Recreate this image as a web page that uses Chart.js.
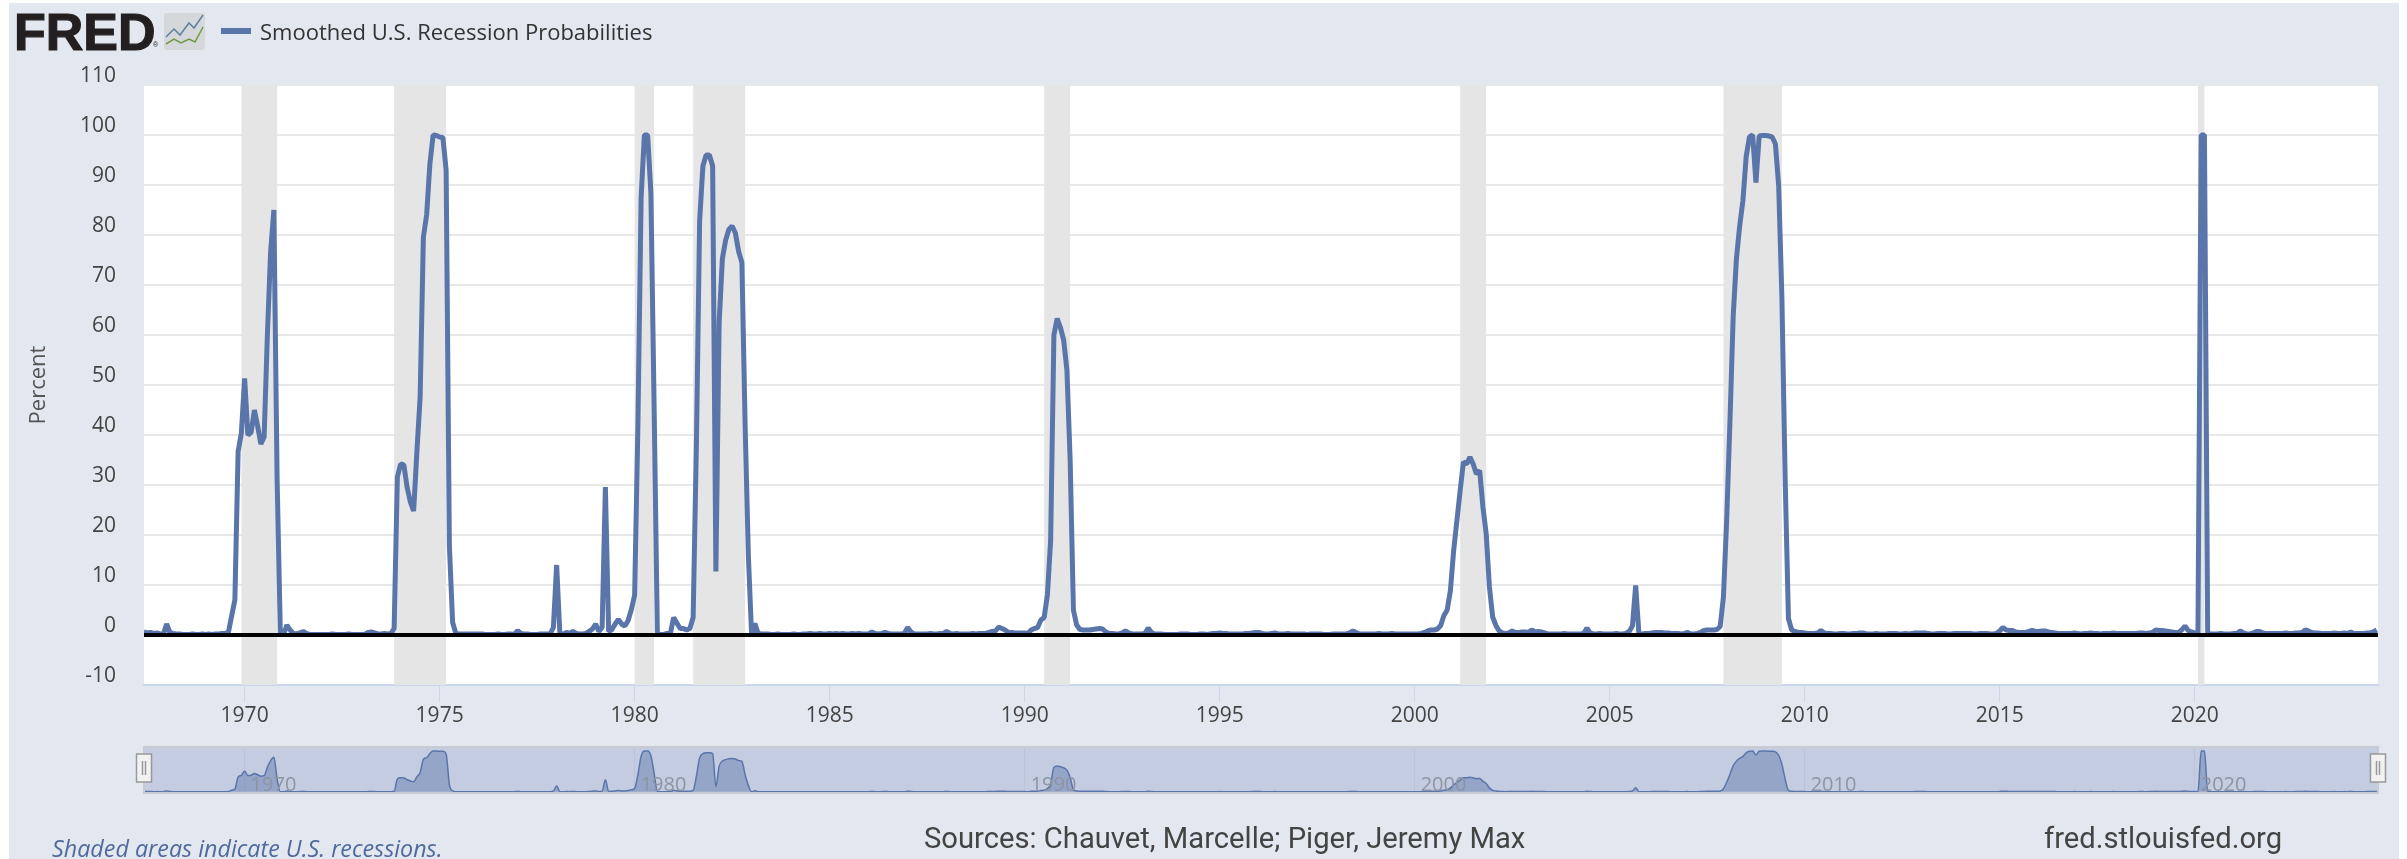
<!DOCTYPE html>
<html>
<head>
<meta charset="utf-8">
<title>Smoothed U.S. Recession Probabilities</title>
<script src="https://cdn.jsdelivr.net/npm/chart.js@4"></script>
<style>
    body { margin: 0; background: #fff; overflow: hidden; width: 2407px; height: 859px; position: relative; }
    #panel { position: absolute; left: 9px; top: 3px; width: 2390px; height: 856px; background: #e3e7ef; }
    canvas { position: absolute; }
    .txt { position: absolute; white-space: nowrap; line-height: 1; }
    #logo { left: 14px; top: 2px; font: bold 52px "Liberation Sans"; color: #231f20; -webkit-text-stroke: 1.2px #231f20; }
    #reg { left: 153px; top: 41px; font: 7px "Liberation Sans"; color: #231f20; }
    #icon { position: absolute; left: 164px; top: 13px; }
    #swatch { position: absolute; left: 221px; top: 28px; width: 30px; height: 6px; background: #5a75a9; }
    #legend { left: 260px; top: 16px; font: 22px "Open Sans"; color: #333; }
    #shaded { left: 52px; top: 832px; font: italic 23.3px "Open Sans"; color: #4f6a9c; }
    #sources { left: 924px; top: 821px; font: 29.2px Roboto; color: #444; }
    #site { left: 2044px; top: 821px; font: 29.2px Roboto; color: #444; }
</style>
</head>
<body>
<div id="panel"></div>
<canvas id="chartMain" width="2407" height="859" style="left:0;top:0"></canvas>
<canvas id="chartNav" width="2270" height="50" style="left:130px;top:745px"></canvas>
<div class="txt" id="logo">FRED</div>
<div class="txt" id="reg">®</div>
<svg id="icon" width="41" height="37" viewBox="0 0 41 37">
    <rect x="0" y="0" width="41" height="37" rx="3" fill="#d5d8da"/>
    <polyline points="2,24 10,16 16,22 25,10 30,15 39,2" fill="none" stroke="#5f7f9e" stroke-width="1.5"/>
    <polyline points="2,31 10,26 17,30 25,26 31,29 39,14" fill="none" stroke="#6f9a3f" stroke-width="1.5"/>
</svg>
<div id="swatch"></div>
<div class="txt" id="legend">Smoothed U.S. Recession Probabilities</div>
<div class="txt" id="shaded">Shaded areas indicate U.S. recessions.</div>
<div class="txt" id="sources">Sources: Chauvet, Marcelle; Piger, Jeremy Max</div>
<div class="txt" id="site">fred.stlouisfed.org</div>

<script>
// Monthly values, one row per year, first value is June 1967
const firstMonth = 1967 + 5 / 12
const recProb = [
    .6, .4, .5, .3, .4, .2, .2,
    2.2, .5, .3, .2, .2, .1, .1, .1, .2, .1, .1, .2,
    .1, .2, .1, .2, .2, .3, .3, .5, 3.8, 7, 36.7, 40.4,
    51.3, 40, 40.5, 45, 41.8, 38.2, 39.6, 60, 76.7, 85, 31, .1,
    .1, 2, 1, .3, .2, .4, .7, .3, .1, .1, .1, .1,
    .1, .1, .1, .2, .1, .1, .1, .1, .2, .1, .1, .1,
    .1, .1, .5, .6, .4, .2, .2, .3, .2, .3, 1.3, 31.6,
    34.2, 34, 29.5, 26.6, 24.8, 36.6, 47.6, 79.6, 84, 94.2, 100, 99.9,
    99.6, 99.5, 93, 17.8, 2.5, .3, .2, .2, .2, .2, .2, .2,
    .2, .2, .1, .1, .1, .1, .2, .1, .1, .2, .2, .1,
    .9, .3, .2, .2, .1, .1, .1, .2, .2, .2, .2, 1.5,
    14, .2, .2, .5, .3, .7, .3, .2, .2, .3, .7, 1.2,
    2.2, .7, 1.5, 29.6, .7, 1.1, 2.2, 3.1, 2.2, 1.8, 2.9, 5.1,
    8, 41.8, 87.6, 100, 100, 88.4, 45.4, .1, .1, .1, .3, .3,
    3.5, 2.4, 1.3, 1.3, 1, 1.3, 3.5, 38, 82.9, 93.8, 96, 96,
    93.8, 12.7, 62.5, 75.3, 79, 81.1, 81.8, 80.4, 76.7, 74.5, 41.8, 15.7,
    -.2, 2.3, .3, .2, .2, .2, .1, .1, .2, .1, .1, .1,
    .1, .2, .1, .1, .2, .2, .3, .2, .2, .3, .2, .2,
    .3, .2, .3, .2, .3, .2, .2, .3, .2, .3, .2, .2,
    .2, .6, .3, .2, .3, .5, .3, .2, .2, .2, .2, .3,
    1.5, .6, .2, .2, .2, .2, .2, .3, .2, .2, .3, .3,
    .7, .3, .2, .3, .2, .2, .2, .2, .3, .2, .3, .3,
    .3, .5, .7, .8, 1.6, 1.3, 1, .5, .5, .4, .4, .4,
    .4, .3, 1, 1.3, 1.5, 3, 3.5, 8, 19, 60, 63.3, 61.5,
    59, 53, 35, 5, 2, 1.1, 1, 1, 1, 1.1, 1.2, 1.3,
    1.2, .6, .3, .3, .2, .2, .4, .8, .4, .2, .2, .2,
    .2, .3, 1.4, .5, .2, .2, .2, .1, .1, .1, .1, .1,
    .2, .2, .2, .1, .1, .1, .2, .2, .1, .2, .3, .3,
    .4, .3, .3, .2, .2, .2, .2, .2, .3, .3, .4, .5,
    .5, .3, .2, .2, .3, .4, .2, .2, .2, .3, .2, .2,
    .2, .2, .2, .1, .2, .2, .2, .2, .1, .1, .1, .2,
    .2, .2, .2, .2, .4, .8, .5, .2, .2, .2, .2, .2,
    .2, .3, .2, .2, .2, .3, .2, .2, .2, .2, .2, .2,
    .2, .2, .3, .5, .8, 1, 1, 1.2, 1.9, 3.9, 5, 8.9,
    16.9, 22.9, 28.9, 34.6, 34.2, 35.6, 34.2, 32.2, 32.9, 25.6, 20.3, 9.6,
    3.6, 1.9, .8, .4, .3, .4, .8, .5, .5, .6, .6, .5,
    1, .6, .7, .6, .4, .2, .2, .2, .2, .2, .3, .2,
    .2, .2, .2, .2, .3, 1.4, .4, .2, .2, .3, .2, .2,
    .2, .2, .3, .2, .2, .3, .7, 1.8, 9.9, .2, .2, .3,
    .3, .4, .5, .5, .5, .4, .4, .3, .3, .3, .2, .3,
    .5, .2, .2, .3, .5, .9, 1, 1, 1, 1.1, 1.7, 7.6,
    23, 42.5, 63.7, 75.3, 81.8, 86.9, 95.7, 99.6, 100, 90.5, 99.8, 99.9,
    99.9, 99.8, 99.6, 98.2, 89.8, 67.3, 31, 3.3, 1, .7, .5, .5,
    .4, .3, .3, .3, .4, .9, .4, .3, .3, .2, .2, .3,
    .3, .2, .2, .3, .3, .4, .4, .2, .2, .2, .3, .2,
    .2, .2, .3, .3, .3, .2, .2, .3, .2, .3, .4, .4,
    .4, .4, .3, .2, .2, .3, .3, .3, .2, .2, .3, .3,
    .3, .3, .3, .3, .2, .2, .3, .3, .3, .2, .2, .3,
    .8, 1.5, 1, .9, .9, .6, .5, .5, .5, .7, .9, .7,
    .7, .8, .8, .6, .5, .4, .3, .3, .3, .3, .3, .4,
    .3, .2, .3, .3, .4, .3, .3, .2, .3, .3, .3, .4,
    .3, .3, .3, .3, .3, .3, .3, .4, .4, .3, .4, .5,
    1, .9, .9, .8, .7, .6, .5, .5, 1, 1.8, .9, .6,
    .4, .3, 100, 100, .2, .2, .2, .2, .3, .2, .2, .2,
    .3, .3, .8, .4, .2, .2, .4, .7, .7, .4, .3, .3,
    .3, .3, .3, .3, .4, .3, .3, .4, .4, .5, 1, .8,
    .5, .4, .4, .3, .3, .3, .3, .4, .3, .3, .4, .3,
    .6, .3, .3, .3, .3, .4, .4, .6, 1
]

// Recessions as decimal years
const recessionStart = [1969.917, 1973.833, 1980, 1981.5, 1990.5, 2001.167, 2007.917, 2020.083]
const recessionEnd = [1970.833, 1975.167, 1980.5, 1982.833, 1991.167, 2001.833, 2009.417, 2020.25]

const xMin = 1967.42
const xMax = 2024.7
const yTicksMin = -10
const yTicksMax = 110

const lineColor = '#5a75a9'
const textColor = '#444'
let points = recProb.map((value, index) => ({ x: firstMonth + index / 12, y: value }))

// White plot background, then the recession bands on top of the grid
const plotBack = {
    id: 'plotBack',
    beforeDraw(chart) {
        const a = chart.chartArea
        chart.ctx.fillStyle = '#fff'
        chart.ctx.fillRect(a.left, a.top, a.width, a.height)
    },
    beforeDatasetsDraw(chart) {
        const a = chart.chartArea
        const x = chart.scales.x
        chart.ctx.fillStyle = '#e5e5e5'
        recessionStart.forEach((start, i) => {
            const left = x.getPixelForValue(start)
            chart.ctx.fillRect(left, a.top, x.getPixelForValue(recessionEnd[i]) - left, a.height)
        })
    }
}

var chart = new Chart(document.getElementById('chartMain').getContext('2d'), {
    type: 'line',
    data: {
        datasets: [{
            label: 'Zero',
            data: [{ x: xMin, y: 0 }, { x: xMax, y: 0 }],
            borderColor: '#000',
            borderWidth: 4
        }, {
            label: 'Smoothed U.S. Recession Probabilities',
            data: points,
            borderColor: lineColor,
            borderWidth: 5,
            borderJoinStyle: 'bevel'
        }]
    },
    options: {
        responsive: false,
        animation: false,
        layout: { padding: { left: 0, top: 85, right: 29, bottom: 0 } },
        elements: { point: { radius: 0 }, line: { tension: 0 } },
        plugins: { legend: { display: false }, tooltip: { enabled: false } },
        scales: {
            x: {
                type: 'linear',
                min: xMin,
                max: xMax,
                afterFit: scale => { scale.height = 174 },
                grid: { drawOnChartArea: false, drawTicks: true, tickLength: 17, tickColor: '#ccd6eb', tickWidth: 1 },
                border: { color: '#ccd6eb', width: 2 },
                ticks: {
                    stepSize: 5,
                    includeBounds: false,
                    maxRotation: 0,
                    autoSkip: false,
                    padding: 1,
                    color: textColor,
                    font: { family: 'Open Sans', size: 21 },
                    callback: value => String(value)
                }
            },
            y: {
                min: yTicksMin,
                max: yTicksMax,
                afterFit: scale => { scale.width = 144 },
                grid: { color: '#e8e8e8', lineWidth: 2, drawTicks: false },
                border: { display: false },
                title: {
                    display: true,
                    text: 'Percent',
                    color: '#555',
                    padding: { top: 26, bottom: 0 },
                    font: { family: 'Open Sans', size: 22 }
                },
                ticks: {
                    stepSize: 10,
                    padding: 28,
                    labelOffset: -9,
                    color: textColor,
                    font: { family: 'Open Sans', size: 21 }
                }
            }
        }
    },
    plugins: [plotBack]
})

// Navigator strip under the main plot
const navBack = {
    id: 'navBack',
    beforeDraw(chart) {
        const a = chart.chartArea
        chart.ctx.fillStyle = '#c3cce0'
        chart.ctx.fillRect(a.left, a.top, a.width, a.height)
    },
    afterDraw(chart) {
        const ctx = chart.ctx
        const a = chart.chartArea
        ctx.strokeStyle = '#c8cbd2'
        ctx.lineWidth = 2
        ctx.strokeRect(a.left, a.top, a.width, a.height)
        const handles = [chart.scales.x.getPixelForValue(xMin), chart.scales.x.getPixelForValue(xMax)]
        handles.forEach(center => {
            ctx.fillStyle = '#f2f2f2'
            ctx.strokeStyle = '#999'
            ctx.lineWidth = 1.5
            ctx.fillRect(center - 7.5, 9, 15, 28)
            ctx.strokeRect(center - 7.5, 9, 15, 28)
            ctx.beginPath()
            ctx.moveTo(center - 1.5, 16)
            ctx.lineTo(center - 1.5, 30)
            ctx.moveTo(center + 1.5, 16)
            ctx.lineTo(center + 1.5, 30)
            ctx.stroke()
        })
    }
}

var navChart = new Chart(document.getElementById('chartNav').getContext('2d'), {
    type: 'line',
    data: {
        datasets: [{
            label: 'Navigator',
            data: points,
            borderColor: lineColor,
            borderWidth: 1.5,
            backgroundColor: 'rgba(90, 117, 169, 0.45)',
            fill: 'origin',
            cubicInterpolationMode: 'monotone'
        }]
    },
    options: {
        responsive: false,
        animation: false,
        layout: { padding: { left: 14, top: 2, right: 22, bottom: 2 } },
        elements: { point: { radius: 0 } },
        plugins: { legend: { display: false }, tooltip: { enabled: false } },
        scales: {
            x: {
                type: 'linear',
                min: xMin,
                max: xMax,
                afterFit: scale => { scale.height = 0 },
                grid: { color: '#b9c3d9', drawTicks: false },
                border: { display: false },
                ticks: {
                    stepSize: 10,
                    includeBounds: false,
                    maxRotation: 0,
                    autoSkip: false,
                    align: 'start',
                    mirror: true,
                    labelOffset: 6,
                    padding: -4,
                    z: 1,
                    color: '#8e94a2',
                    font: { family: 'Open Sans', size: 20 },
                    callback: value => String(value)
                }
            },
            y: { display: false, min: -3, max: 110 }
        }
    },
    plugins: [navBack]
})
</script>
</body>
</html>
